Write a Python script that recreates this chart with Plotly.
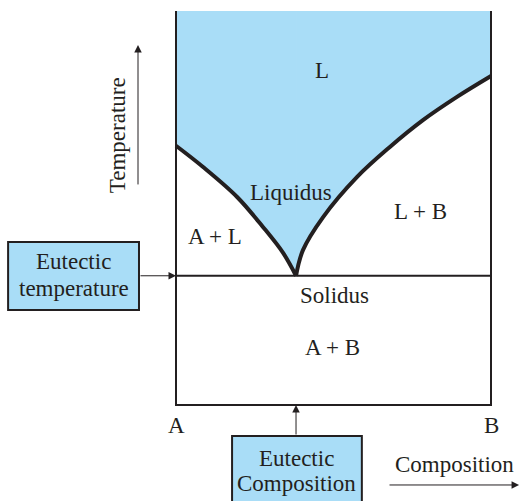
import plotly.graph_objects as go

# composition: 0 = pure A, 1 = pure B ; temperature on a 0-100 scale (top of diagram = 100)
liq_left_c = [0.0, 0.086, 0.194, 0.276, 0.340, 0.381]
liq_left_T = [65.8, 60.4, 52.8, 45.2, 38.6, 32.8]
liq_right_c = [0.381, 0.403, 0.467, 0.575, 0.679, 0.784, 0.892, 1.0]
liq_right_T = [32.8, 39.3, 47.7, 57.9, 65.5, 72.3, 78.2, 83.5]

eut_c = 0.381
eut_T = 32.8
T_top = 100

region_labels = ["L", "Liquidus", "L + B", "A + L", "Solidus", "A + B", "A", "B"]
region_c = [0.463, 0.365, 0.775, 0.124, 0.503, 0.498, 0.0, 1.0]
region_T = [85.0, 54.0, 49.2, 42.8, 27.9, 14.7, -5.1, -5.3]

blue = "#a9ddf7"
ink = "#231f20"
serif = "Liberation Serif"

fig = go.Figure()

# blue liquid region (filled down to the liquidus)
fig.add_trace(go.Scatter(x=[0, eut_c], y=[T_top, T_top], mode="lines",
                         line=dict(width=0, color=blue), hoverinfo="skip"))
fig.add_trace(go.Scatter(x=liq_left_c, y=liq_left_T, mode="lines", fill="tonexty",
                         fillcolor=blue, line=dict(width=0, shape="spline", color=blue),
                         hoverinfo="skip"))
fig.add_trace(go.Scatter(x=[eut_c, 1], y=[T_top, T_top], mode="lines",
                         line=dict(width=0, color=blue), hoverinfo="skip"))
fig.add_trace(go.Scatter(x=liq_right_c, y=liq_right_T, mode="lines", fill="tonexty",
                         fillcolor=blue, line=dict(width=0, shape="spline", color=blue),
                         hoverinfo="skip"))

# frame: side walls, bottom, eutectic (solidus) line
fig.add_trace(go.Scatter(x=[0, 0, 1, 1], y=[T_top, 0, 0, T_top], mode="lines",
                         line=dict(width=2, color=ink), hoverinfo="skip"))
fig.add_trace(go.Scatter(x=[0, 1], y=[eut_T, eut_T], mode="lines",
                         line=dict(width=2, color=ink), hoverinfo="skip"))

# liquidus curves
for cx, ty in [(liq_left_c, liq_left_T), (liq_right_c, liq_right_T)]:
    fig.add_trace(go.Scatter(x=cx, y=ty, mode="lines",
                             line=dict(width=4, color=ink, shape="spline"),
                             hoverinfo="skip"))

# callout boxes
fig.add_shape(type="rect", x0=-0.533, x1=-0.1175, y0=24.1, y1=41.4,
              fillcolor=blue, line=dict(color=ink, width=2))
fig.add_shape(type="rect", x0=0.178, x1=0.590, y0=-30, y1=-7.87,
              fillcolor=blue, line=dict(color=ink, width=2))

font = dict(family=serif, size=23, color=ink)
for txt, cx, ty in zip(region_labels, region_c, region_T):
    fig.add_annotation(x=cx, y=ty, text=txt, showarrow=False, font=font)

fig.add_annotation(x=-0.187, y=68.5, text="Temperature", textangle=-90,
                   showarrow=False, font=font)
fig.add_annotation(x=-0.324, y=36.3, text="Eutectic", showarrow=False, font=font)
fig.add_annotation(x=-0.324, y=29.5, text="temperature", showarrow=False, font=font)
fig.add_annotation(x=eut_c, y=-13.5, text="Eutectic", showarrow=False, font=font)
fig.add_annotation(x=eut_c, y=-19.8, text="Composition", showarrow=False, font=font)
fig.add_annotation(x=0.883, y=-15.2, text="Composition", showarrow=False, font=font)

# arrows
arrows = [
    (-0.1206, 91.4, -0.1206, 55.6),   # temperature axis
    (0.0, eut_T, -0.1175, eut_T),     # eutectic temperature
    (eut_c, 0.0, eut_c, -7.87),       # eutectic composition
    (1.089, -20.3, 0.673, -20.3),     # composition axis
]
for hx, hy, tx, ty in arrows:
    fig.add_annotation(x=hx, y=hy, ax=tx, ay=ty, xref="x", yref="y",
                       axref="x", ayref="y", text="", showarrow=True,
                       arrowhead=2, arrowsize=1.5, arrowwidth=1, arrowcolor=ink,
                       standoff=0, startstandoff=0)

fig.update_xaxes(range=[-176 / 315, 345 / 315], visible=False)
fig.update_yaxes(range=[-96 / 3.94, 405 / 3.94], visible=False)
fig.update_layout(width=521, height=501, autosize=False,
                  margin=dict(l=0, r=0, t=0, b=0),
                  plot_bgcolor="white", paper_bgcolor="white",
                  showlegend=False)

# drop the page's default body margin so the figure fills the window
fig.write_html("out.html", config={"displayModeBar": False},
               post_script="document.body.style.margin='0';document.body.style.overflow='hidden';")
